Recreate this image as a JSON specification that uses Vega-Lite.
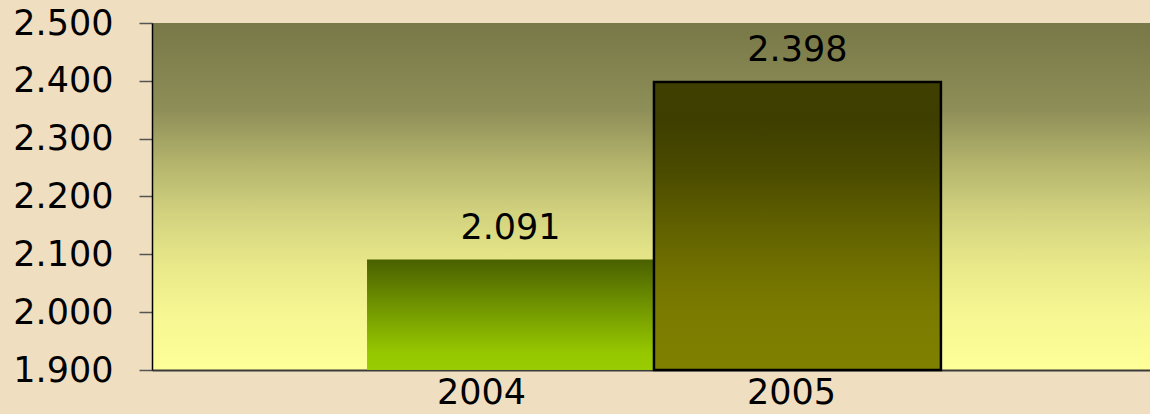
{
  "$schema": "https://vega.github.io/schema/vega-lite/v6.json",
  "autosize": {"type": "none"},
  "width": 998,
  "height": 347,
  "padding": {"left": 152, "top": 23, "right": 0, "bottom": 44},
  "background": "#f0dec0",
  "config": {
    "font": "DejaVu Sans",
    "view": {
      "stroke": null,
      "fill": {
        "gradient": "linear", "x1": 0, "y1": 0, "x2": 0, "y2": 1,
        "stops": [
          {"offset": 0, "color": "#787848"},
          {"offset": 0.25, "color": "#8e8e58"},
          {"offset": 0.4, "color": "#b3b36c"},
          {"offset": 0.55, "color": "#d2d27f"},
          {"offset": 0.7, "color": "#e9e98a"},
          {"offset": 0.85, "color": "#f7f793"},
          {"offset": 1, "color": "#ffff99"}
        ]
      }
    }
  },
  "data": {"values": [
    {"year": "2004", "value": 2.091},
    {"year": "2005", "value": 2.398}
  ]},
  "encoding": {
    "x": {
      "field": "year", "type": "nominal",
      "scale": {"paddingInner": 0, "paddingOuter": 0.739, "align": 0.507},
      "axis": {
        "title": null, "labelAngle": 0, "ticks": false,
        "domainColor": "#3a3a3a", "domainWidth": 2,
        "labelFont": "DejaVu Sans", "labelFontSize": 35, "labelColor": "#000000",
        "labelBaseline": "top", "labelPadding": 5,
        "labelOffset": {"condition": {"test": "datum.value == '2004'", "value": -29}, "value": -6}
      }
    },
    "y": {
      "field": "value", "type": "quantitative",
      "scale": {"domain": [1.9, 2.5], "zero": false, "nice": false},
      "axis": {
        "title": null, "values": [1.9, 2.0, 2.1, 2.2, 2.3, 2.4, 2.5], "format": ".3f",
        "grid": false, "domainColor": "#000000", "domainWidth": 1.5,
        "tickColor": "#555555", "tickSize": 13, "tickWidth": 1.5,
        "labelFont": "DejaVu Sans", "labelFontSize": 35, "labelColor": "#000000",
        "labelPadding": 26, "labelBaseline": "middle"
      }
    }
  },
  "layer": [
    {
      "mark": {"type": "bar", "strokeWidth": 2.5},
      "encoding": {
        "y2": {"datum": 1.9},
        "color": {
          "condition": {
            "test": "datum.year == '2004'",
            "value": {
              "gradient": "linear", "x1": 0, "y1": 0, "x2": 0, "y2": 1,
              "stops": [
                {"offset": 0, "color": "#4a6000"},
                {"offset": 0.45, "color": "#739800"},
                {"offset": 0.85, "color": "#96c800"},
                {"offset": 1, "color": "#99cc00"}
              ]
            }
          },
          "value": {
            "gradient": "linear", "x1": 0, "y1": 0, "x2": 0, "y2": 1,
            "stops": [
              {"offset": 0, "color": "#3f3f00"},
              {"offset": 0.13, "color": "#3e3e00"},
              {"offset": 0.3, "color": "#4a4a00"},
              {"offset": 0.48, "color": "#5e5e00"},
              {"offset": 0.65, "color": "#707000"},
              {"offset": 0.78, "color": "#7a7a00"},
              {"offset": 1, "color": "#808000"}
            ]
          }
        },
        "stroke": {
          "condition": {"test": "datum.year == '2005'", "value": "#000000"},
          "value": null
        }
      }
    },
    {
      "mark": {"type": "text", "baseline": "alphabetic", "dy": -21, "font": "DejaVu Sans", "fontSize": 35, "color": "#000000"},
      "encoding": {
        "text": {"field": "value", "type": "quantitative", "format": ".3f"}
      }
    }
  ]
}
